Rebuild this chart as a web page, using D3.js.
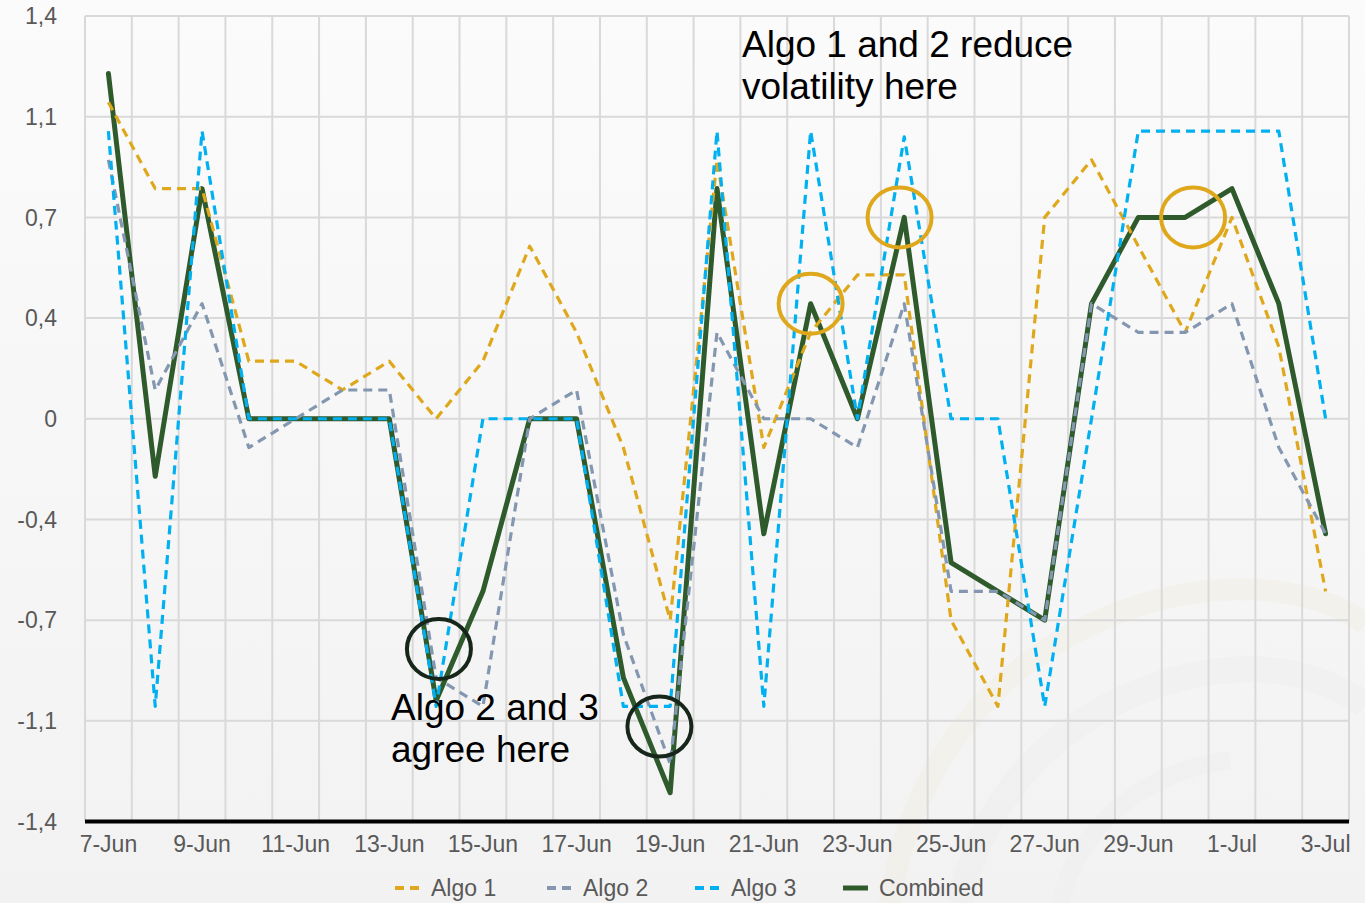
<!DOCTYPE html>
<html>
<head>
<meta charset="utf-8">
<script src="https://cdn.jsdelivr.net/npm/d3@7/dist/d3.min.js"></script>
<style>
  html, body { margin: 0; padding: 0; background: #f5f5f5; }
  svg { display: block; font-family: "Liberation Sans", Arial, sans-serif; }
</style>
</head>
<body>
<svg id="chart" width="1365" height="903"></svg>
<script>
// Daily signal values, 7-Jun to 3-Jul
const dates = ["7-Jun","8-Jun","9-Jun","10-Jun","11-Jun","12-Jun","13-Jun","14-Jun","15-Jun",
  "16-Jun","17-Jun","18-Jun","19-Jun","20-Jun","21-Jun","22-Jun","23-Jun","24-Jun","25-Jun",
  "26-Jun","27-Jun","28-Jun","29-Jun","30-Jun","1-Jul","2-Jul","3-Jul"];

const algo1 = [1.1, 0.8, 0.8, 0.2, 0.2, 0.1, 0.2, 0.0, 0.2, 0.6, 0.3, -0.1, -0.7, 0.9,
  -0.1, 0.3, 0.5, 0.5, -0.7, -1.0, 0.7, 0.9, 0.6, 0.3, 0.7, 0.25, -0.6];
const algo2 = [0.9, 0.1, 0.4, -0.1, 0.0, 0.1, 0.1, -0.9, -1.0, 0.0, 0.1, -0.75, -1.2, 0.3,
  0.0, 0.0, -0.1, 0.4, -0.6, -0.6, -0.7, 0.4, 0.3, 0.3, 0.4, -0.1, -0.4];
const algo3 = [1.0, -1.0, 1.0, 0.0, 0.0, 0.0, 0.0, -1.0, 0.0, 0.0, 0.0, -1.0, -1.0, 1.0,
  -1.0, 1.0, 0.0, 0.98, 0.0, 0.0, -1.0, 0.0, 1.0, 1.0, 1.0, 1.0, 0.0];
const combined = [1.2, -0.2, 0.8, 0.0, 0.0, 0.0, 0.0, -0.98, -0.6, 0.0, 0.0, -0.9, -1.3, 0.8,
  -0.4, 0.4, 0.0, 0.7, -0.5, -0.6, -0.7, 0.4, 0.7, 0.7, 0.8, 0.4, -0.4];

const yTicks = [1.4, 1.05, 0.7, 0.35, 0, -0.35, -0.7, -1.05, -1.4];
const yTickLabels = ["1,4", "1,1", "0,7", "0,4", "0", "-0,4", "-0,7", "-1,1", "-1,4"];
const xTickLabels = dates.filter((d, i) => i % 2 === 0);

const seriesNames = ["Algo 1", "Algo 2", "Algo 3", "Combined"];

// Highlight rings: position in days from 7-Jun, value, colour
const ringDays = [7.06, 11.77, 15, 16.9, 23.17];
const ringValues = [-0.8, -1.07, 0.4, 0.7, 0.7];
const ringKinds = ["dark", "dark", "gold", "gold", "gold"];

const colors = {
  "Algo 1": "#dfa81c",
  "Algo 2": "#8497b0",
  "Algo 3": "#00b0f0",
  "Combined": "#2e5a2c",
  "dark": "#17261a",
  "gold": "#dfa81c"
};

const svg = d3.select("#chart");
const W = 1365, H = 903;
const plotLeft = 85, plotRight = 1349, plotTop = 16, plotBottom = 821.5;
const FONT = "Liberation Sans, Arial, sans-serif";

// Background
const defs = svg.append("defs");
const bg = defs.append("linearGradient").attr("id", "bg").attr("x1", 0).attr("y1", 0).attr("x2", 0).attr("y2", 1);
bg.append("stop").attr("offset", "0%").attr("stop-color", "#fbfbfb");
bg.append("stop").attr("offset", "100%").attr("stop-color", "#f2f2f2");
svg.append("rect").attr("width", W).attr("height", H).attr("fill", "url(#bg)");

// Faint decorative swoosh, lower right
const deco = svg.append("g").attr("fill", "none");
deco.append("path")
  .attr("d", "M 890 903 C 920 700, 1080 600, 1220 590 C 1300 585, 1350 610, 1365 625")
  .attr("stroke", "#efe6c8").attr("stroke-width", 22).attr("opacity", 0.18);
deco.append("path")
  .attr("d", "M 960 903 C 990 760, 1110 680, 1230 670 C 1300 665, 1345 690, 1365 705")
  .attr("stroke", "#e4e6e4").attr("stroke-width", 26).attr("opacity", 0.25);
deco.append("path")
  .attr("d", "M 1060 903 C 1080 820, 1150 770, 1230 760")
  .attr("stroke", "#e8eae8").attr("stroke-width", 18).attr("opacity", 0.22);

const x = d3.scaleBand().domain(dates).range([plotLeft, plotRight]).padding(0);
const xc = d => x(d) + x.bandwidth() / 2;
const xDay = d3.scaleLinear().domain([0, dates.length - 1])
  .range([xc(dates[0]), xc(dates[dates.length - 1])]);
const y = d3.scaleLinear().domain([-1.4, 1.4]).range([plotBottom, plotTop]);

// Gridlines
const grid = svg.append("g").attr("stroke", "#d9d9d9").attr("stroke-width", 2);
grid.selectAll("line.h").data(yTicks.filter(t => t !== -1.4)).join("line")
  .attr("class", "h")
  .attr("x1", plotLeft).attr("x2", plotRight)
  .attr("y1", d => y(d)).attr("y2", d => y(d));
const bounds = dates.map(d => x(d)).concat([plotRight]);
grid.selectAll("line.v").data(bounds).join("line")
  .attr("class", "v")
  .attr("x1", d => d).attr("x2", d => d)
  .attr("y1", plotTop).attr("y2", plotBottom);

// Y axis labels
const yAxis = d3.axisLeft(y).tickValues(yTicks).tickSize(0).tickPadding(0)
  .tickFormat((d, i) => yTickLabels[i]);
const yg = svg.append("g").attr("transform", "translate(57,0)").call(yAxis);
yg.select(".domain").remove();
yg.selectAll("text").attr("font-size", 23).attr("fill", "#595959")
  .attr("font-family", FONT).attr("dy", "0.34em");

// X axis
const xAxis = d3.axisBottom(x).tickValues(xTickLabels).tickSize(0).tickPadding(0);
const xg = svg.append("g").attr("transform", `translate(0,${plotBottom})`).call(xAxis);
xg.select(".domain").remove();
xg.selectAll("text").attr("font-size", 23).attr("fill", "#595959")
  .attr("font-family", FONT).attr("y", 14);
svg.append("line").attr("x1", plotLeft).attr("x2", plotRight).attr("y1", plotBottom).attr("y2", plotBottom)
  .attr("stroke", "#000").attr("stroke-width", 4);

// Series lines
const line = d3.line().x((d, i) => xc(dates[i])).y(d => y(d));
const series = [
  { name: "Combined", values: combined, width: 5, dash: null },
  { name: "Algo 1", values: algo1, width: 3.2, dash: "9,6" },
  { name: "Algo 2", values: algo2, width: 3.2, dash: "9,6" },
  { name: "Algo 3", values: algo3, width: 3.2, dash: "9,6" }
];
svg.append("g").selectAll("path").data(series).join("path")
  .attr("d", s => line(s.values))
  .attr("fill", "none")
  .attr("stroke", s => colors[s.name])
  .attr("stroke-width", s => s.width)
  .attr("stroke-dasharray", s => s.dash)
  .attr("stroke-linejoin", "round")
  .attr("stroke-linecap", s => s.dash ? "butt" : "round");

// Highlight rings
svg.append("g").selectAll("ellipse").data(ringDays).join("ellipse")
  .attr("cx", d => xDay(d))
  .attr("cy", (d, i) => y(ringValues[i]))
  .attr("rx", 32).attr("ry", 30)
  .attr("fill", "none")
  .attr("stroke", (d, i) => colors[ringKinds[i]])
  .attr("stroke-width", 4);

// Annotations
const note = svg.append("g").attr("font-size", 37).attr("fill", "#000").attr("font-family", FONT);
note.append("text").attr("x", 742).attr("y", 57).text("Algo 1 and 2 reduce");
note.append("text").attr("x", 742).attr("y", 99).text("volatility here");
note.append("text").attr("x", 391).attr("y", 720).text("Algo 2 and 3");
note.append("text").attr("x", 391).attr("y", 762).text("agree here");

// Legend
const legendX = [395, 547, 695, 843];
const lg = svg.append("g");
const items = lg.selectAll("g").data(seriesNames).join("g")
  .attr("transform", (d, i) => `translate(${legendX[i]},888)`);
items.append("line").attr("x1", 0).attr("x2", 25).attr("y1", 0).attr("y2", 0)
  .attr("stroke", d => colors[d]).attr("stroke-width", d => d === "Combined" ? 5 : 4)
  .attr("stroke-dasharray", d => d === "Combined" ? null : "9,6");
items.append("text").attr("x", 36).attr("y", 0).attr("dy", "0.35em")
  .attr("font-size", 23).attr("font-family", FONT).attr("fill", "#595959").text(d => d);
</script>
</body>
</html>
